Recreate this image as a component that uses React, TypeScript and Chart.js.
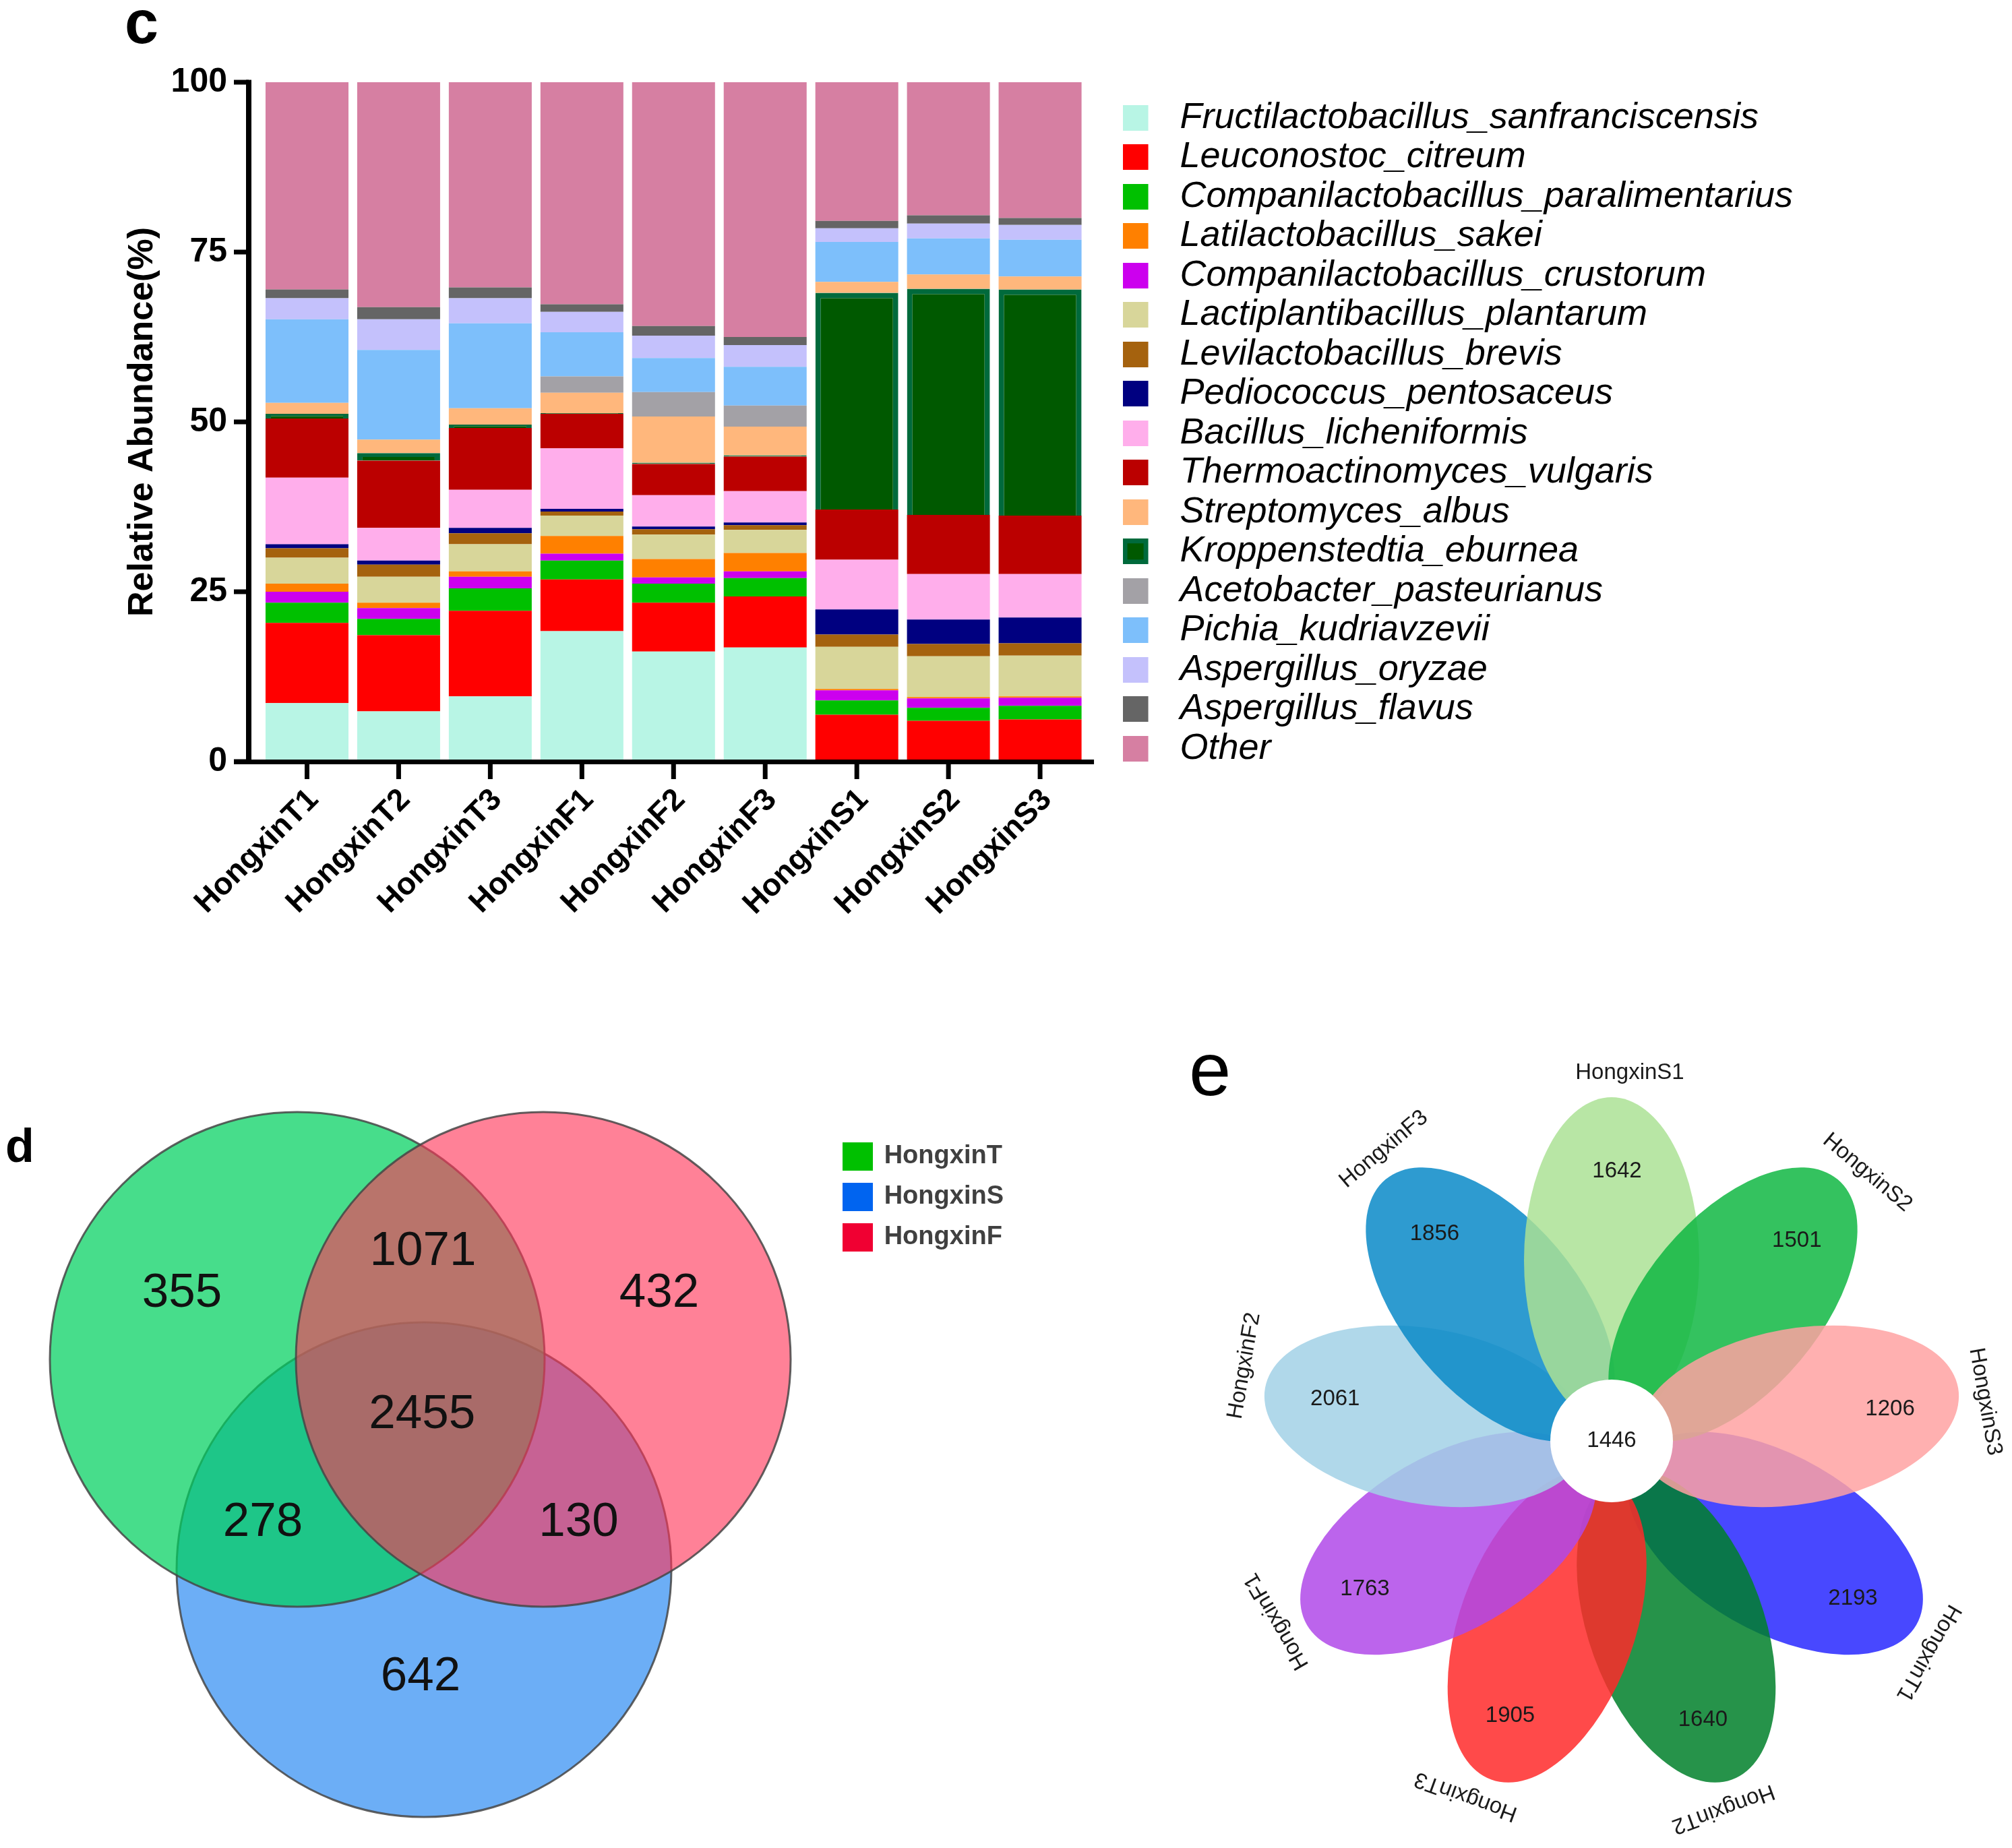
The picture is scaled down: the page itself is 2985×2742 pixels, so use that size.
import React, { useEffect, useRef } from 'react';
import { Chart, registerables } from 'chart.js';

Chart.register(...registerables);

const FONT = '"Liberation Sans", Arial, Helvetica, sans-serif';

// ---------------- panel c : stacked relative abundance ----------------
const samples = ['HongxinT1', 'HongxinT2', 'HongxinT3', 'HongxinF1', 'HongxinF2', 'HongxinF3', 'HongxinS1', 'HongxinS2', 'HongxinS3'];
const yTickValues = [0, 25, 50, 75, 100];

// stack order (bottom -> top)
const speciesNames = [
  'Fructilactobacillus_sanfranciscensis',
  'Leuconostoc_citreum',
  'Companilactobacillus_paralimentarius',
  'Companilactobacillus_crustorum',
  'Latilactobacillus_sakei',
  'Lactiplantibacillus_plantarum',
  'Levilactobacillus_brevis',
  'Pediococcus_pentosaceus',
  'Bacillus_licheniformis',
  'Thermoactinomyces_vulgaris',
  'Kroppenstedtia_eburnea',
  'Streptomyces_albus',
  'Acetobacter_pasteurianus',
  'Pichia_kudriavzevii',
  'Aspergillus_oryzae',
  'Aspergillus_flavus',
  'Other',
];
const speciesColors = [
  '#B8F5E5', '#FF0000', '#00C000', '#CC00EE', '#FF8000', '#D8D69A', '#A5620E', '#000080',
  '#FFAEEB', '#BB0000', '#005900', '#FFB77C', '#A3A1A6', '#7DBFFB', '#C4C1FC', '#656565', '#D67FA2',
];
const kroppenBorder = '#006A3C';
// legend lists the species in this order
const legendOrder = [0, 1, 2, 4, 3, 5, 6, 7, 8, 9, 11, 10, 12, 13, 14, 15, 16];

const fructi = [8.6, 7.4, 9.6, 19.2, 16.2, 16.8, 0.3, 0, 0];
const leuco = [11.8, 11.2, 12.6, 7.6, 7.2, 7.5, 6.6, 6.0, 6.2];
const compPara = [3.0, 2.4, 3.3, 2.8, 2.8, 2.7, 2.1, 1.9, 2.0];
const compCrust = [1.6, 1.6, 1.7, 1.0, 0.9, 1.0, 1.5, 1.4, 1.2];
const lati = [1.2, 0.8, 0.8, 2.6, 2.7, 2.7, 0.2, 0.2, 0.2];
const lacti = [3.8, 3.8, 4.0, 3.0, 3.6, 3.4, 6.2, 6.0, 6.0];
const levi = [1.4, 1.8, 1.6, 0.6, 0.8, 0.7, 1.8, 1.8, 1.8];
const pedio = [0.6, 0.6, 0.8, 0.4, 0.4, 0.4, 3.7, 3.6, 3.8];
const bacillus = [9.8, 4.8, 5.6, 8.9, 4.6, 4.6, 7.3, 6.7, 6.4];
const thermo = [8.7, 9.9, 9.1, 5.1, 4.6, 5.1, 7.4, 8.7, 8.6];
const kroppen = [0.7, 1.1, 0.5, 0.1, 0.2, 0.2, 31.9, 33.3, 33.3];
const strepto = [1.6, 2.0, 2.4, 3.0, 6.8, 4.2, 1.6, 2.1, 1.9];
const aceto = [0, 0, 0, 2.4, 3.6, 3.1, 0, 0, 0];
const pichia = [12.3, 13.2, 12.5, 6.5, 5.0, 5.7, 5.9, 5.3, 5.4];
const oryzae = [3.1, 4.5, 3.7, 3.0, 3.3, 3.2, 2.0, 2.2, 2.2];
const flavus = [1.3, 1.8, 1.6, 1.1, 1.4, 1.2, 1.1, 1.2, 1.0];
const other = [30.5, 33.1, 30.2, 32.7, 35.9, 37.5, 20.4, 19.6, 20.0];
const abundance = [fructi, leuco, compPara, compCrust, lati, lacti, levi, pedio, bacillus, thermo, kroppen, strepto, aceto, pichia, oryzae, flavus, other];

// ---------------- panel d : Venn ----------------
const vennSets = ['HongxinT', 'HongxinS', 'HongxinF'];
const vennLegendColors = ['#00C000', '#0064F0', '#F00032'];
const vennFillColors = ['rgba(0,208,94,0.72)', 'rgba(18,125,240,0.62)', 'rgba(255,51,87,0.62)'];
const vennOnly = [355, 642, 432]; // T, S, F
const vennTF = 1071;
const vennTS = 278;
const vennSF = 130;
const vennAll = 2455;

// ---------------- panel e : flower ----------------
const petalNames = ['HongxinS1', 'HongxinS2', 'HongxinS3', 'HongxinT1', 'HongxinT2', 'HongxinT3', 'HongxinF1', 'HongxinF2', 'HongxinF3'];
const petalCounts = [1642, 1501, 1206, 2193, 1640, 1905, 1763, 2061, 1856];
const coreCount = 1446;
const petalColors = ['#ABE295', '#10B743', '#FFA2A2', '#2828FF', '#00802A', '#FF2A2A', '#B049E9', '#A2D1E6', '#098AC8'];

function makeSwatch(color: string, w: number, h: number, cw: number, border?: string) {
  const c = document.createElement('canvas');
  c.width = cw;
  c.height = h;
  const g = c.getContext('2d')!;
  if (border) {
    g.fillStyle = border;
    g.fillRect(0, 0, w, h);
    g.fillStyle = color;
    g.fillRect(7, 7, w - 14, h - 14);
  } else {
    g.fillStyle = color;
    g.fillRect(0, 0, w, h);
  }
  return c;
}

function mapToPage(chart: any, left: number, top: number) {
  const ca = chart.chartArea;
  const sx = chart.options.scales.x;
  const sy = chart.options.scales.y;
  sx.min = left + ca.left;
  sx.max = left + ca.right;
  sy.min = top + ca.top;
  sy.max = top + ca.bottom;
  chart.update();
}

function makeBarChart(canvas: HTMLCanvasElement) {
  const swatches = speciesColors.map((c, i) => makeSwatch(c, 38, 38, 58, i === 10 ? kroppenBorder : undefined));
  const axesPlugin = {
    id: 'axesC',
    afterDraw(chart: any) {
      const { ctx, chartArea } = chart;
      const x = chart.scales.x;
      const y = chart.scales.y;
      const ax = chartArea.left - 18.5;
      const y0 = y.getPixelForValue(0);
      const yTop = y.getPixelForValue(100);
      ctx.save();
      ctx.fillStyle = '#000';
      ctx.fillRect(ax - 4, yTop - 3.5, 8, y0 - yTop + 7);
      yTickValues.forEach((v) => {
        const py = y.getPixelForValue(v);
        ctx.fillRect(ax - 22, py - 3.5, 22, 7);
      });
      ctx.fillRect(ax - 22, y0 - 3, chartArea.right + 12 - (ax - 22), 7);
      samples.forEach((_, i) => {
        const px = x.getPixelForValue(i);
        ctx.fillRect(px - 3.5, y0, 7, 26);
      });
      ctx.font = `bold 90px ${FONT}`;
      ctx.textBaseline = 'alphabetic';
      ctx.textAlign = 'left';
      ctx.fillText('c', 185, 64);
      ctx.restore();
    },
  };
  return new Chart(canvas, {
    type: 'bar',
    data: {
      labels: samples,
      datasets: abundance.map((vals, i) => ({
        label: speciesNames[i],
        data: vals,
        backgroundColor: speciesColors[i],
        borderColor: i === 10 ? kroppenBorder : speciesColors[i],
        borderWidth: i === 10 ? 8 : 0,
        borderSkipped: 'start',
        barPercentage: 0.905,
        categoryPercentage: 1,
      })),
    },
    options: {
      responsive: false,
      animation: false,
      devicePixelRatio: 1,
      events: [],
      layout: { autoPadding: false, padding: { left: 176, top: 122, right: 0, bottom: 0 } },
      scales: {
        x: {
          stacked: true,
          grid: { display: false, drawTicks: false },
          border: { display: false },
          ticks: {
            autoSkip: false,
            maxRotation: 45,
            minRotation: 45,
            padding: 30,
            labelOffset: 10,
            color: '#000',
            font: { family: FONT, size: 46, weight: 'bold' },
          },
          afterFit: (s: any) => { s.height = 290; },
        },
        y: {
          stacked: true,
          min: 0,
          max: 100,
          grid: { display: false, drawTicks: false },
          border: { display: false },
          afterBuildTicks: (s: any) => { s.ticks = yTickValues.map((v) => ({ value: v })); },
          ticks: {
            padding: 50.5,
            color: '#000',
            font: { family: FONT, size: 50, weight: 'bold' },
          },
          title: {
            display: true,
            text: 'Relative Abundance(%)',
            color: '#000',
            font: { family: FONT, size: 52, weight: 'bold' },
            padding: { top: 4, bottom: 4 },
          },
          afterFit: (s: any) => { s.width = 211.5; },
        },
        yR: {
          axis: 'y',
          position: 'right',
          grid: { display: false, drawTicks: false },
          border: { display: false },
          ticks: { display: false },
          afterFit: (s: any) => { s.width = 50; },
        },
      } as any,
      plugins: {
        tooltip: { enabled: false },
        legend: {
          position: 'right',
          align: 'start',
          maxWidth: 1200,
          title: { display: true, text: '', font: { size: 1 }, padding: { top: 20, bottom: 0 } },
          labels: {
            usePointStyle: true,
            pointStyleWidth: 58,
            padding: 4.5,
            color: '#000',
            font: { family: FONT, size: 54, style: 'italic' },
            generateLabels: () =>
              legendOrder.map((i) => ({
                text: speciesNames[i],
                pointStyle: swatches[i] as any,
                fillStyle: speciesColors[i],
                strokeStyle: speciesColors[i],
                lineWidth: 0,
                hidden: false,
                datasetIndex: i,
                fontColor: '#000',
              })),
          },
        },
      },
    } as any,
    plugins: [axesPlugin as any],
  });
}

function makeVenn(canvas: HTMLCanvasElement) {
  const T = { x: 441, y: 2017 };
  const S = { x: 629, y: 2329 };
  const F = { x: 806, y: 2017 };
  const R = 367;
  const centers = [T, S, F];
  const swatches = vennLegendColors.map((c) => {
    const cv = document.createElement('canvas');
    cv.width = 45;
    cv.height = 42;
    const g = cv.getContext('2d')!;
    g.fillStyle = c;
    g.fillRect(0, 0, 45, 42);
    return cv;
  });
  const mid = (a: any, b: any) => ({ x: (a.x + b.x) / 2, y: (a.y + b.y) / 2 });
  const labelPlugin = {
    id: 'vennLabels',
    afterDatasetsDraw(chart: any) {
      const { ctx } = chart;
      const xs = chart.scales.x;
      const ys = chart.scales.y;
      const cen = { x: (T.x + S.x + F.x) / 3, y: (T.y + S.y + F.y) / 3 };
      const items = [
        { v: vennOnly[0], p: { x: T.x - 171, y: T.y - 98 } },
        { v: vennOnly[1], p: { x: S.x - 5, y: S.y + 159 } },
        { v: vennOnly[2], p: { x: F.x + 172, y: F.y - 98 } },
        { v: vennTF, p: { x: mid(T, F).x + 4, y: mid(T, F).y - 160 } },
        { v: vennTS, p: { x: mid(T, S).x - 145, y: mid(T, S).y + 86 } },
        { v: vennSF, p: { x: mid(S, F).x + 141, y: mid(S, F).y + 86 } },
        { v: vennAll, p: { x: cen.x + 1, y: cen.y - 22 } },
      ];
      ctx.save();
      ctx.fillStyle = '#111';
      ctx.font = `71px ${FONT}`;
      ctx.textAlign = 'center';
      ctx.textBaseline = 'middle';
      items.forEach((it) => {
        ctx.fillText(String(it.v), xs.getPixelForValue(it.p.x), ys.getPixelForValue(it.p.y));
      });
      ctx.font = `bold 70px ${FONT}`;
      ctx.fillStyle = '#000';
      ctx.textAlign = 'left';
      ctx.textBaseline = 'alphabetic';
      ctx.fillText('d', 8, 124);
      ctx.restore();
    },
  };
  // draw order: first dataset on top -> F, T, S
  const drawIdx = [2, 0, 1];
  const chart = new Chart(canvas, {
    type: 'bubble',
    data: {
      datasets: drawIdx.map((i) => ({
        label: vennSets[i],
        data: [{ x: centers[i].x, y: centers[i].y, r: R }],
        backgroundColor: vennFillColors[i],
        borderColor: 'rgba(70,70,70,0.85)',
        borderWidth: 3,
        clip: false as any,
      })),
    },
    options: {
      responsive: false,
      animation: false,
      devicePixelRatio: 1,
      events: [],
      layout: { autoPadding: false, padding: { top: 75, left: 0, right: 0, bottom: 0 } },
      scales: {
        x: { type: 'linear', display: false, min: 0, max: 1 },
        y: { type: 'linear', display: false, min: 0, max: 1, reverse: true },
      },
      plugins: {
        tooltip: { enabled: false },
        legend: {
          position: 'right',
          align: 'start',
          labels: {
            usePointStyle: true,
            pointStyleWidth: 40,
            padding: 22,
            color: '#404040',
            font: { family: FONT, size: 38, weight: 'bold' },
            generateLabels: () =>
              vennSets.map((name, i) => ({
                text: name,
                pointStyle: swatches[i] as any,
                fillStyle: vennLegendColors[i],
                strokeStyle: vennLegendColors[i],
                lineWidth: 0,
                hidden: false,
                datasetIndex: drawIdx.indexOf(i),
                fontColor: '#404040',
              })),
          },
        },
      },
    } as any,
    plugins: [labelPlugin as any],
  });
  mapToPage(chart, 0, 1600);
  return chart;
}

function makeFlower(canvas: HTMLCanvasElement) {
  const FC = { x: 2391, y: 2150 };
  const PETAL_DIST = 280;
  const PETAL_A = 242;
  const PETAL_B = 130;
  const CORE_R = 91;
  const CORE_DY = -12;
  const NUM_R = 418;
  const NUM_DY = 6;
  const LABEL_R = 558;
  const drawOrder = [3, 4, 5, 6, 7, 8, 0, 1, 2];
  const flowerPlugin = {
    id: 'flower',
    beforeDatasetsDraw(chart: any) {
      const { ctx } = chart;
      const xs = chart.scales.x;
      const ys = chart.scales.y;
      const unit = Math.abs(xs.getPixelForValue(1000) - xs.getPixelForValue(0)) / 1000;
      const n = petalNames.length;
      const P = (x: number, y: number) => [xs.getPixelForValue(x), ys.getPixelForValue(y)];
      ctx.save();
      drawOrder.forEach((i) => {
        const th = (i * 2 * Math.PI) / n;
        const [cx, cy] = P(FC.x + PETAL_DIST * Math.sin(th), FC.y - PETAL_DIST * Math.cos(th));
        ctx.beginPath();
        ctx.ellipse(cx, cy, PETAL_B * unit, PETAL_A * unit, th, 0, Math.PI * 2);
        ctx.globalAlpha = 0.85;
        ctx.fillStyle = petalColors[i];
        ctx.fill();
      });
      ctx.globalAlpha = 1;
      const [ccx, ccy] = P(FC.x, FC.y + CORE_DY);
      ctx.beginPath();
      ctx.arc(ccx, ccy, CORE_R * unit, 0, Math.PI * 2);
      ctx.fillStyle = '#fff';
      ctx.fill();
      ctx.fillStyle = '#1a1a1a';
      ctx.font = `33px ${FONT}`;
      ctx.textAlign = 'center';
      ctx.textBaseline = 'middle';
      ctx.fillText(String(coreCount), ccx, ccy);
      petalNames.forEach((name, i) => {
        const th = (i * 2 * Math.PI) / n;
        const dx = Math.sin(th);
        const dy = -Math.cos(th);
        const tx = Math.cos(th);
        const ty = Math.sin(th);
        const [nx, ny] = P(FC.x + NUM_R * dx + 8 * tx, FC.y + NUM_R * dy + 8 * ty + NUM_DY);
        ctx.fillText(String(petalCounts[i]), nx, ny);
        const [lx, ly] = P(FC.x + LABEL_R * dx + 27 * tx, FC.y + LABEL_R * dy + 27 * ty);
        ctx.save();
        ctx.translate(lx, ly);
        ctx.rotate(th);
        ctx.fillText(name, 0, 0);
        ctx.restore();
      });
      ctx.fillStyle = '#000';
      ctx.font = `112px ${FONT}`;
      ctx.textAlign = 'left';
      ctx.textBaseline = 'alphabetic';
      ctx.fillText('e', 64, 145);
      ctx.restore();
    },
  };
  const chart = new Chart(canvas, {
    type: 'scatter',
    data: { datasets: [{ data: [], pointRadius: 0 }] },
    options: {
      responsive: false,
      animation: false,
      devicePixelRatio: 1,
      events: [],
      layout: { autoPadding: false, padding: 0 },
      scales: {
        x: { type: 'linear', display: false, min: 0, max: 1 },
        y: { type: 'linear', display: false, min: 0, max: 1, reverse: true },
      },
      plugins: { tooltip: { enabled: false }, legend: { display: false } },
    } as any,
    plugins: [flowerPlugin as any],
  });
  mapToPage(chart, 1700, 1480);
  return chart;
}

export default function App() {
  const cRef = useRef<HTMLCanvasElement>(null);
  const dRef = useRef<HTMLCanvasElement>(null);
  const eRef = useRef<HTMLCanvasElement>(null);
  useEffect(() => {
    const charts: Chart[] = [];
    if (cRef.current) charts.push(makeBarChart(cRef.current));
    if (dRef.current) charts.push(makeVenn(dRef.current));
    if (eRef.current) charts.push(makeFlower(eRef.current));
    return () => charts.forEach((c) => c.destroy());
  }, []);
  return (
    <div style={{ position: 'absolute', left: 0, top: 0, width: 2985, height: 2742, background: '#fff', overflow: 'hidden' }}>
      <canvas ref={cRef} width={2670} height={1420} style={{ position: 'absolute', left: 0, top: 0, width: 2670, height: 1420 }} />
      <canvas ref={dRef} width={1499} height={1142} style={{ position: 'absolute', left: 0, top: 1600, width: 1499, height: 1142 }} />
      <canvas ref={eRef} width={1285} height={1262} style={{ position: 'absolute', left: 1700, top: 1480, width: 1285, height: 1262 }} />
    </div>
  );
}
